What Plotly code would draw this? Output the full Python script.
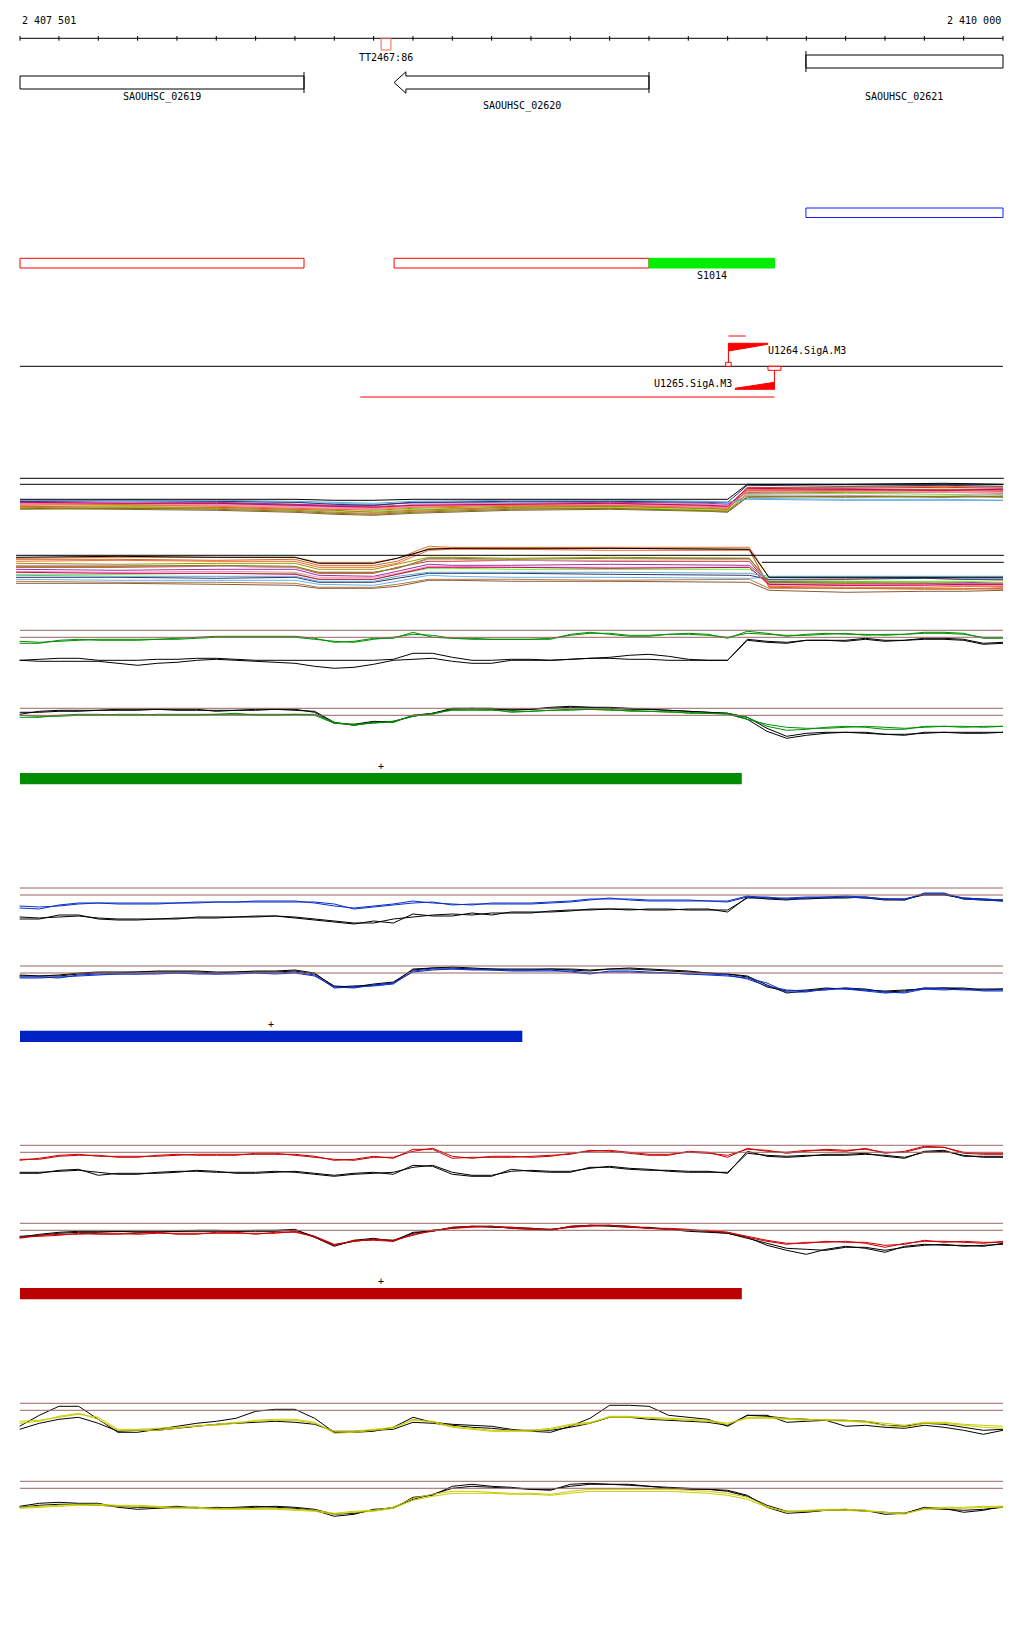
import plotly.graph_objects as go

# ---------------- data ----------------
START, END = 2407501, 2410000
tick_pos = [START] + list(range(2407600, END + 1, 100))

gene_names = ['SAOUHSC_02619', 'SAOUHSC_02620', 'SAOUHSC_02621']
gene_left = [2407300, 2408452, 2409499]
gene_right = [2408223, 2409100, 2410300]
gene_strand = ['-', '-', '+']

term_names = ['TT2467:86']
term_left = [2408419]
term_right = [2408444]

utr_left = [2407300, 2408452, 2409499]
utr_right = [2408223, 2409100, 2410300]
utr_strand = ['-', '-', '+']

srna_names = ['S1014']
srna_left = [2409100]
srna_right = [2409419]

prom_names = ['U1264.SigA.M3', 'U1265.SigA.M3']
prom_pos = [2409302, 2409419]
prom_strand = ['+', '-']

tx_plus_left, tx_plus_right = [2409302], [2409346]
tx_minus_left, tx_minus_right = [2408366], [2409419]

# multi-condition profiles (many conditions)
cluster_a_pos = [2407501, 2407750, 2408000, 2408200, 2408300, 2408400, 2408500, 2408750,
                 2409000, 2409250, 2409300, 2409350, 2409600, 2409850, 2410000]
cluster_a_values = [
    [24, 25, 26, 27, 29, 30, 28, 27, 26, 27, 28, 10, 9, 8, 9],
    [26, 27, 27, 29, 31, 32, 30, 28, 28, 30, 31, 12, 11, 11, 12],
    [25, 26, 25, 26, 28, 28, 27, 26, 27, 28, 29, 9, 10, 9, 10],
    [22, 23, 23, 24, 25, 26, 25, 24, 23, 24, 25, 20, 21, 21, 22],
    [23, 24, 24, 26, 27, 27, 24, 25, 24, 25, 26, 14, 13, 12, 13],
    [28, 28, 29, 31, 33, 33, 31, 29, 29, 31, 32, 16, 15, 16, 17],
    [25, 24, 26, 28, 29, 30, 26, 25, 25, 26, 27, 17, 17, 18, 16],
    [30, 31, 32, 34, 36, 37, 35, 32, 31, 33, 34, 19, 18, 19, 18],
    [27, 26, 28, 30, 31, 31, 29, 27, 27, 29, 30, 11, 12, 13, 12],
    [29, 30, 30, 32, 34, 35, 33, 30, 30, 32, 33, 15, 14, 14, 15],
    [23, 22, 23, 24, 26, 27, 24, 23, 23, 24, 24, 7, 8, 7, 8],
    [26, 25, 27, 29, 30, 31, 28, 26, 26, 28, 29, 13, 13, 14, 14],
    [31, 30, 31, 33, 35, 36, 34, 31, 30, 32, 33, 18, 19, 18, 19],
    [28, 29, 29, 31, 32, 34, 32, 29, 28, 30, 31, 12, 12, 11, 11],
    [24, 25, 25, 27, 28, 29, 27, 26, 25, 27, 28, 10, 11, 12, 11],
    [22, 22, 22, 23, 24, 25, 23, 22, 22, 23, 24, 21, 22, 22, 22],
    [21, 21, 21, 21, 22, 22, 21, 21, 21, 21, 21, 6, 6, 5, 6],
]

cluster_b_pos = [2407491, 2407750, 2408000, 2408200, 2408260, 2408400, 2408460, 2408540,
                 2408600, 2408750, 2409000, 2409355, 2409405, 2409600, 2409800, 2409900, 2410000]
cluster_b_values = [
    [3, 2, 2, 2, 7, 7, 3, -9, -8, -8, -8, -8, 22, 23, 23, 24, 25],
    [8, 9, 8, 8, 14, 14, 9, 2, 2, 3, 2, 3, 27, 27, 28, 28, 28],
    [12, 12, 11, 12, 18, 18, 12, 6, 6, 5, 6, 6, 29, 30, 29, 30, 31],
    [24, 25, 25, 25, 29, 30, 26, 20, 21, 22, 22, 23, 22, 22, 22, 23, 23],
    [14, 15, 14, 14, 20, 21, 16, 9, 10, 10, 9, 10, 26, 26, 27, 27, 28],
    [19, 19, 18, 18, 24, 24, 19, 13, 13, 14, 14, 14, 25, 26, 26, 26, 27],
    [10, 10, 11, 12, 17, 17, 13, 4, 4, 5, 5, 4, 28, 28, 27, 28, 28],
    [28, 28, 29, 30, 33, 33, 31, 25, 25, 26, 26, 27, 35, 37, 36, 36, 35],
    [6, 5, 6, 6, 12, 12, 8, -5, -6, -6, -5, -5, 31, 32, 32, 31, 32],
    [26, 27, 27, 28, 32, 32, 29, 24, 24, 24, 25, 24, 33, 33, 34, 34, 33],
    [22, 22, 23, 22, 27, 27, 23, 18, 18, 18, 19, 20, 24, 24, 23, 24, 24],
    [16, 17, 16, 17, 22, 22, 18, 11, 11, 12, 12, 12, 30, 29, 29, 30, 30],
    [11, 11, 10, 11, 17, 17, 13, 3, 3, 4, 3, 3, 27, 28, 28, 29, 29],
    [4, 4, 5, 4, 10, 10, 6, -7, -7, -6, -7, -6, 32, 33, 33, 33, 34],
    [17, 18, 18, 19, 24, 24, 19, 12, 12, 12, 13, 12, 29, 30, 30, 29, 29],
    [20, 21, 21, 21, 26, 26, 21, 17, 17, 17, 17, 18, 21, 21, 21, 21, 21],
    [2, 1, 2, 2, 8, 8, 3, -6, -7, -7, -7, -6, 22, 22, 22, 22, 22],
]

# per-condition signal profiles, sampled every 50 bp
sig_pos = list(range(2407500, END + 1, 50))

gt_col_a = [13, 13, 10, 9, 10, 10, 10, 9, 8, 7, 6, 6, 6, 6, 6, 8, 12, 11, 8, 8, 2, 7, 8, 8, 9, 9, 9, 9, 4, 2, 4, 6, 6, 4, 3, 4, 8, 1, 3, 6, 4, 3, 4, 4, 5, 4, 2, 2, 3, 8, 8]
gt_col_b = [11, 12, 11, 10, 9, 9, 9, 9, 9, 8, 7, 7, 7, 7, 7, 9, 11, 12, 9, 7, 4, 5, 8, 9, 9, 9, 9, 8, 5, 3, 3, 5, 5, 4, 4, 5, 7, 3, 4, 5, 5, 4, 3, 5, 4, 4, 3, 3, 4, 7, 7]
gt_blk_a = [30, 29, 28, 28, 30, 30, 30, 29, 29, 28, 28, 29, 30, 30, 30, 30, 30, 30, 30, 29, 23, 23, 27, 30, 30, 29, 29, 30, 29, 28, 27, 25, 24, 26, 29, 30, 30, 9, 11, 12, 10, 10, 10, 8, 10, 10, 8, 8, 9, 13, 12]
gt_blk_b = [30, 31, 31, 31, 31, 33, 35, 33, 32, 30, 29, 30, 31, 32, 33, 36, 38, 37, 34, 30, 29, 28, 31, 33, 33, 30, 30, 30, 29, 28, 28, 29, 29, 30, 30, 30, 30, 10, 12, 13, 10, 10, 11, 9, 11, 10, 9, 9, 10, 14, 13]

gb_col_a = [9, 9, 7, 6, 6, 7, 7, 6, 6, 6, 6, 6, 6, 6, 6, 6, 14, 17, 14, 14, 7, 6, 1, 1, 1, 4, 3, 2, 1, 1, 2, 2, 3, 4, 4, 5, 5, 9, 18, 22, 21, 19, 18, 19, 21, 21, 18, 18, 19, 18, 18]
gb_col_b = [7, 8, 8, 7, 7, 6, 6, 7, 7, 7, 6, 5, 7, 7, 6, 7, 15, 16, 15, 13, 8, 5, 2, 2, 2, 3, 3, 2, 2, 1, 1, 3, 3, 3, 5, 5, 6, 11, 16, 19, 20, 20, 19, 18, 19, 20, 19, 18, 18, 19, 18]
gb_blk_a = [6, 3, 2, 2, 2, 1, 1, 1, 1, 1, 3, 2, 1, 1, 1, 4, 15, 16, 13, 14, 7, 5, 0, 0, 0, 2, 1, -1, -2, -1, -1, 0, 1, 2, 3, 4, 5, 9, 20, 28, 25, 24, 24, 25, 26, 27, 24, 24, 24, 24, 24]
gb_blk_b = [4, 4, 3, 3, 2, 2, 2, 1, 2, 2, 2, 2, 2, 1, 2, 3, 14, 17, 14, 13, 8, 5, 1, 0, 1, 1, 1, 0, -1, -1, 0, 1, 1, 2, 3, 4, 5, 11, 23, 30, 27, 25, 24, 24, 26, 26, 25, 24, 25, 25, 24]

bt_col_a = [20, 21, 17, 15, 15, 16, 16, 16, 15, 15, 14, 14, 14, 14, 14, 14, 16, 21, 19, 17, 15, 14, 17, 16, 16, 16, 16, 15, 14, 12, 10, 12, 13, 13, 13, 13, 13, 8, 10, 10, 9, 9, 8, 9, 11, 12, 5, 5, 11, 12, 13]
bt_col_b = [18, 19, 18, 16, 15, 15, 15, 15, 15, 14, 14, 14, 13, 13, 13, 15, 18, 20, 18, 16, 13, 15, 16, 17, 15, 15, 15, 14, 13, 11, 11, 11, 12, 12, 12, 13, 14, 9, 9, 11, 10, 9, 9, 10, 11, 11, 6, 6, 10, 11, 12]
bt_blk_a = [31, 31, 27, 27, 31, 32, 32, 31, 30, 30, 30, 29, 29, 28, 30, 32, 34, 36, 33, 35, 26, 28, 28, 25, 27, 24, 24, 24, 23, 21, 21, 21, 22, 22, 21, 21, 24, 9, 11, 12, 10, 10, 9, 10, 12, 12, 6, 6, 11, 12, 13]
bt_blk_b = [29, 30, 29, 28, 30, 31, 31, 31, 31, 29, 29, 29, 28, 28, 29, 31, 33, 35, 35, 31, 29, 27, 26, 27, 25, 25, 25, 23, 22, 22, 21, 22, 21, 21, 22, 22, 22, 10, 10, 11, 11, 10, 10, 9, 11, 11, 7, 7, 10, 11, 12]

bb_col_a = [11, 11, 12, 9, 8, 8, 8, 8, 7, 7, 8, 8, 7, 7, 6, 9, 22, 21, 20, 18, 5, 3, 3, 4, 4, 4, 4, 4, 6, 8, 5, 5, 6, 7, 8, 9, 10, 12, 17, 26, 26, 23, 23, 25, 27, 26, 22, 23, 24, 24, 24]
bb_col_b = [12, 12, 11, 10, 9, 8, 8, 7, 7, 8, 8, 7, 7, 8, 7, 10, 21, 22, 19, 17, 6, 4, 3, 3, 4, 5, 5, 5, 5, 7, 6, 6, 7, 7, 8, 8, 9, 13, 20, 24, 25, 24, 22, 24, 26, 27, 23, 24, 23, 25, 25]
bb_blk_a = [9, 10, 9, 7, 6, 6, 6, 5, 5, 5, 6, 6, 5, 5, 4, 7, 21, 20, 19, 17, 3, 2, 2, 3, 3, 3, 3, 3, 4, 5, 3, 2, 3, 4, 5, 7, 8, 10, 19, 27, 25, 23, 22, 23, 26, 25, 22, 22, 23, 23, 23]
bb_blk_b = [10, 10, 10, 8, 7, 7, 6, 6, 6, 6, 7, 6, 6, 6, 5, 8, 20, 21, 18, 16, 4, 2, 1, 2, 3, 4, 4, 3, 3, 4, 3, 3, 4, 5, 6, 7, 8, 11, 21, 25, 24, 22, 23, 24, 25, 24, 23, 22, 22, 24, 23]

rt_col_a = [15, 13, 10, 9, 11, 11, 11, 11, 10, 9, 9, 9, 9, 9, 9, 11, 15, 14, 11, 13, 4, 4, 13, 12, 12, 12, 11, 10, 9, 5, 6, 8, 10, 10, 6, 7, 12, 3, 6, 7, 5, 5, 6, 3, 8, 6, 1, 2, 8, 9, 9]
rt_col_b = [14, 14, 11, 10, 10, 12, 12, 10, 9, 10, 10, 10, 8, 8, 10, 12, 14, 15, 12, 12, 6, 3, 11, 13, 11, 11, 12, 11, 8, 6, 5, 7, 9, 9, 7, 8, 10, 4, 5, 8, 6, 4, 5, 4, 7, 7, 2, 2, 7, 8, 8]
rt_blk_a = [28, 28, 25, 24, 30, 28, 28, 28, 27, 25, 26, 28, 28, 27, 26, 28, 30, 28, 27, 29, 20, 21, 29, 31, 31, 24, 26, 27, 27, 22, 22, 24, 25, 25, 26, 26, 28, 6, 11, 12, 11, 9, 9, 8, 11, 13, 6, 5, 11, 11, 11]
rt_blk_b = [27, 27, 26, 25, 27, 29, 29, 27, 26, 26, 27, 27, 27, 26, 27, 29, 31, 29, 28, 27, 22, 20, 27, 30, 30, 26, 25, 26, 26, 23, 21, 23, 24, 26, 27, 27, 27, 8, 10, 11, 10, 10, 10, 9, 10, 12, 7, 6, 10, 12, 12]

rb_col_a = [15, 12, 11, 11, 10, 10, 11, 10, 10, 10, 10, 10, 10, 10, 8, 14, 22, 17, 17, 18, 11, 8, 4, 3, 3, 4, 5, 7, 3, 2, 2, 4, 5, 6, 7, 7, 9, 14, 18, 21, 19, 19, 18, 20, 24, 20, 18, 18, 19, 20, 18]
rb_col_b = [14, 13, 12, 10, 11, 11, 10, 9, 11, 11, 9, 9, 11, 9, 9, 13, 21, 18, 16, 17, 12, 7, 5, 4, 3, 5, 6, 6, 4, 3, 2, 3, 5, 5, 6, 8, 9, 13, 17, 20, 20, 18, 19, 19, 22, 21, 17, 19, 18, 19, 19]
rb_blk_a = [14, 11, 9, 8, 8, 8, 8, 8, 8, 8, 8, 8, 7, 7, 6, 14, 23, 17, 15, 18, 9, 8, 4, 3, 3, 5, 6, 7, 3, 2, 2, 3, 5, 6, 8, 9, 10, 14, 22, 27, 31, 26, 23, 25, 29, 23, 21, 22, 22, 23, 20]
rb_blk_b = [13, 12, 10, 9, 9, 8, 9, 9, 8, 7, 7, 8, 8, 8, 7, 13, 22, 18, 16, 17, 10, 7, 5, 3, 4, 4, 5, 6, 4, 2, 3, 4, 4, 6, 7, 8, 10, 15, 20, 25, 26, 27, 24, 24, 27, 24, 22, 21, 23, 22, 21]

yt_col_a = [20, 18, 13, 10, 16, 27, 27, 27, 25, 22, 22, 20, 17, 16, 16, 19, 30, 29, 27, 25, 16, 19, 24, 26, 28, 28, 28, 26, 22, 20, 13, 13, 15, 16, 17, 18, 21, 14, 14, 15, 16, 17, 18, 19, 22, 24, 20, 20, 22, 24, 25]
yt_col_b = [18, 17, 14, 11, 14, 26, 26, 25, 24, 23, 21, 19, 18, 17, 17, 20, 28, 28, 26, 24, 17, 18, 23, 25, 27, 27, 27, 25, 21, 19, 14, 14, 14, 15, 16, 17, 20, 15, 15, 16, 17, 16, 17, 18, 20, 22, 19, 19, 21, 22, 23]
yt_blk_a = [23, 12, 3, 3, 16, 29, 29, 26, 23, 20, 18, 15, 8, 6, 6, 15, 29, 29, 28, 24, 14, 19, 21, 22, 23, 26, 28, 29, 23, 15, 2, 2, 3, 12, 14, 16, 23, 12, 12, 19, 18, 17, 23, 22, 24, 25, 22, 24, 27, 31, 27]
yt_blk_b = [26, 20, 16, 14, 20, 28, 27, 27, 25, 23, 21, 20, 19, 18, 19, 21, 28, 28, 27, 26, 19, 20, 22, 24, 25, 27, 27, 27, 24, 20, 14, 14, 16, 17, 18, 19, 22, 12, 13, 15, 16, 17, 17, 18, 22, 23, 20, 21, 24, 27, 26]

yb_col_a = [26, 25, 24, 23, 23, 24, 24, 25, 26, 26, 27, 27, 27, 27, 28, 29, 32, 30, 29, 26, 17, 13, 10, 10, 11, 12, 12, 13, 10, 8, 8, 8, 8, 8, 9, 10, 12, 16, 25, 31, 29, 28, 28, 29, 31, 33, 27, 26, 26, 25, 25]
yb_col_b = [27, 26, 25, 24, 24, 25, 25, 26, 27, 27, 28, 28, 28, 28, 29, 30, 33, 31, 30, 27, 19, 15, 12, 12, 12, 13, 13, 14, 12, 10, 10, 10, 10, 10, 11, 12, 14, 18, 26, 30, 30, 29, 29, 30, 31, 32, 28, 27, 27, 26, 26]
yb_blk_a = [25, 22, 21, 22, 22, 26, 28, 27, 26, 26, 27, 26, 25, 26, 27, 29, 35, 33, 28, 27, 16, 14, 5, 3, 5, 6, 8, 9, 3, 2, 3, 3, 5, 7, 8, 8, 9, 14, 26, 32, 31, 29, 29, 29, 33, 32, 26, 27, 31, 29, 25]
yb_blk_b = [26, 24, 23, 23, 24, 25, 26, 26, 25, 27, 26, 27, 26, 25, 26, 28, 33, 32, 29, 26, 18, 13, 7, 5, 6, 7, 8, 8, 5, 3, 3, 4, 5, 6, 7, 8, 10, 15, 24, 30, 30, 29, 28, 30, 31, 32, 27, 28, 29, 28, 26]

# significant-region bars per condition
bar_left = [START, START, START]
bar_right = [2409336, 2408778, 2409336]

# ---------------- layout / style ----------------
PAGE_OFF = 8                           # browser body margin
W, H = 1024 - 2 * PAGE_OFF, 1640 - 2 * PAGE_OFF
SCALE = 983 / (END - START)            # px per bp
X0 = START - (20 - PAGE_OFF) / SCALE
X1 = X0 + W / SCALE
FONT = dict(family='DejaVu Sans Mono', size=10, color='black')
BROWN = '#9c6464'
cluster_colors = ['#e07b39', '#999900', '#cc3333', '#66b3ff', '#993399', '#66ee22',
                  '#cc99cc', '#8b5a3c', '#ff6633', '#b08040', '#333366', '#ff88bb',
                  '#7f7f00', '#d2691e', '#cc0066', '#5fa8d3', 'black']

fig = go.Figure()
shapes, notes = [], []


def clip(a, b):
    return max(a, START), min(b, END)


def line(x0, y0, x1, y1, color='black', width=1):
    shapes.append(dict(type='line', x0=x0, y0=y0, x1=x1, y1=y1, xref='x', yref='y',
                       line=dict(color=color, width=width)))


def rect(x0, y0, x1, y1, color='black', fill='rgba(0,0,0,0)', width=1):
    shapes.append(dict(type='rect', x0=x0, y0=y0, x1=x1, y1=y1, xref='x', yref='y',
                       line=dict(color=color, width=width), fillcolor=fill))


def text(x, y, s, anchor='center'):
    notes.append(dict(x=x, y=y, xref='x', yref='y', text=s, showarrow=False,
                      xanchor=anchor, yanchor='middle', font=FONT))


def path(xs, ys, color, width=1, fill=None):
    fig.add_trace(go.Scatter(x=xs, y=ys, mode='lines', line=dict(color=color, width=width),
                             fill='toself' if fill else None, fillcolor=fill,
                             hoverinfo='skip', showlegend=False))


# ruler
line(START, 38.3, END, 38.3)
for t in tick_pos:
    line(t, 36, t, 40.7)
text(START, 20, '2 407 501', 'left')
text(END, 20, '2 410 000', 'right')

# terminator
for n, a, b in zip(term_names, term_left, term_right):
    rect(a, 38.3, b, 50, color='#f26b4f')
    text((a + b) / 2, 57, n)

# genes
label_row = {'SAOUHSC_02620': 106}
for n, a, b, s in zip(gene_names, gene_left, gene_right, gene_strand):
    l, r = clip(a, b)
    top = 76 if s == '-' else 55
    bot = top + 13
    mid = (top + bot) / 2
    head = 30
    if s == '-' and a >= START:
        path([l, l + head, l + head, r, r, l + head, l + head, l],
             [mid, mid - 10.7, top, top, bot, bot, mid + 10.7, mid], 'black')
    else:
        rect(l, top, r, bot)
    if s == '-' and b <= END:
        line(r, top - 4, r, bot + 4)
    if s == '+' and a >= START:
        line(l, top - 4, l, bot + 4)
    text((l + r) / 2, label_row.get(n, 97.3), n)

# transcripts / UTR boxes
for a, b, s in zip(utr_left, utr_right, utr_strand):
    l, r = clip(a, b)
    if s == '+':
        rect(l, 208, r, 217.5, color='#1020ff')
    else:
        rect(l, 258.3, r, 268, color='#ff0000')
for n, a, b in zip(srna_names, srna_left, srna_right):
    rect(a, 258.3, b, 268, color='#00ee00', fill='#00ee00')
    text((a + b) / 2, 275, n)

# promoters
WEDGE = 100
line(START, 366.3, END, 366.3)
for n, p, s in zip(prom_names, prom_pos, prom_strand):
    if s == '+':
        line(p, 343.3, p, 366.3, '#ff0000')
        rect(p - 7, 362.3, p + 7, 366.3, color='#ff0000', fill='white')
        path([p, p + WEDGE, p + WEDGE, p, p], [343.3, 343.3, 344.3, 351, 343.3], '#ff0000', fill='#ff0000')
        text(p + 95, 350.7, n, 'left')
    else:
        line(p, 366.3, p, 389.3, '#ff0000')
        rect(p - 16.5, 366.3, p + 16.5, 370.3, color='#ff0000', fill='white')
        path([p, p - WEDGE, p - WEDGE, p, p], [389.3, 389.3, 388.3, 382.3, 389.3], '#ff0000', fill='#ff0000')
        text(p - 104, 383.3, n, 'right')
for a, b in zip(tx_plus_left, tx_plus_right):
    line(a, 336, b, 336, '#ff0000')
for a, b in zip(tx_minus_left, tx_minus_right):
    line(a, 397, b, 397, '#ff0000')

# multi-condition clusters
line(START, 478.3, END + 2, 478.3)
line(START, 484.3, END + 2, 484.3)
for vals, c in zip(cluster_a_values, cluster_colors):
    path(cluster_a_pos, [478.3 + v for v in vals], c)
line(cluster_b_pos[0], 555.3, END + 2, 555.3)
line(2409387, 562.3, END + 2, 562.3)
for vals, c in zip(cluster_b_values, cluster_colors):
    path(cluster_b_pos, [555.3 + v for v in vals], c)

# per-condition signal panels
panels = [
    ('#009000', 630.3, [(gt_col_a, gt_col_b, gt_blk_a, gt_blk_b), (gb_col_a, gb_col_b, gb_blk_a, gb_blk_b)], '#008c00'),
    ('#0a30cc', 888.0, [(bt_col_a, bt_col_b, bt_blk_a, bt_blk_b), (bb_col_a, bb_col_b, bb_blk_a, bb_blk_b)], '#0022c4'),
    ('#cc0000', 1145.3, [(rt_col_a, rt_col_b, rt_blk_a, rt_blk_b), (rb_col_a, rb_col_b, rb_blk_a, rb_blk_b)], '#bb0000'),
    ('#c8cc00', 1403.3, [(yt_col_a, yt_col_b, yt_blk_a, yt_blk_b), (yb_col_a, yb_col_b, yb_blk_a, yb_blk_b)], None),
]
for i, (col, top, subs, barcol) in enumerate(panels):
    for j, (ca, cb, ka, kb) in enumerate(subs):
        base = top + 78 * j
        line(START, base, END, base, BROWN)
        line(START, base + 7, END, base + 7, BROWN)
        for s in (ka, kb):
            path(sig_pos, [base + v for v in s], 'black')
        for s in (ca, cb):
            path(sig_pos, [base + v for v in s], col)
    if barcol:
        a, b = bar_left[i], bar_right[i]
        rect(a, top + 142.7, b, top + 154, color=barcol, fill=barcol, width=0)
        text((a + b) / 2, top + 136, '+')

fig.update_layout(
    width=W, height=H,
    margin=dict(l=0, r=0, t=0, b=0),
    paper_bgcolor='white', plot_bgcolor='white',
    xaxis=dict(range=[X0, X1], visible=False, showgrid=False, zeroline=False),
    yaxis=dict(range=[H + PAGE_OFF, PAGE_OFF], visible=False, showgrid=False, zeroline=False),
    shapes=shapes, annotations=notes, showlegend=False,
)

fig.write_html("out.html")
